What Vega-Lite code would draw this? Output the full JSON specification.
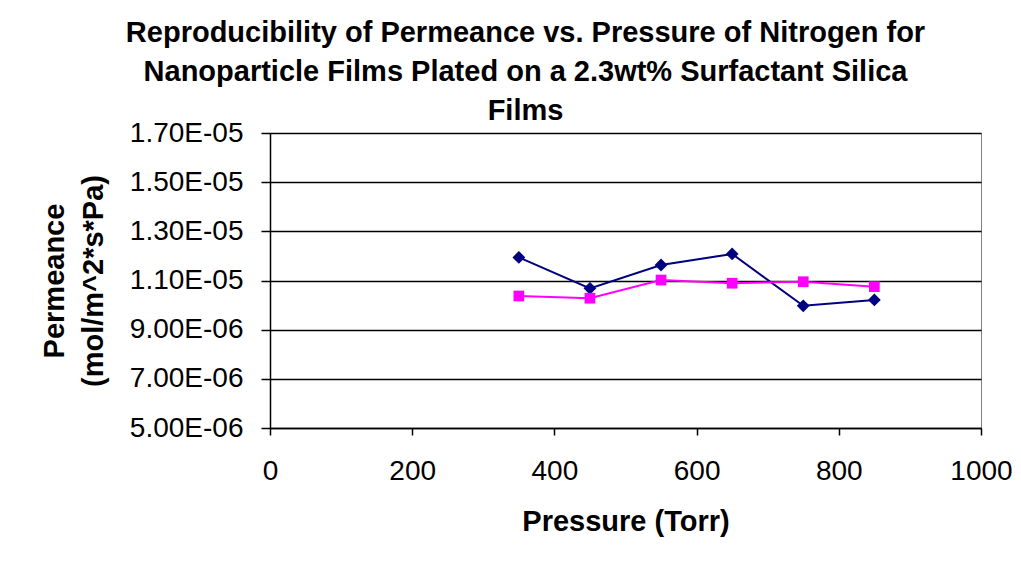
{
  "$schema": "https://vega.github.io/schema/vega-lite/v6.json",
  "width": 711,
  "height": 295,
  "autosize": {"type": "none"},
  "padding": {"left": 270, "top": 133, "right": 40, "bottom": 134},
  "background": "white",
  "title": {
    "text": ["Reproducibility of Permeance vs. Pressure of Nitrogen for", "Nanoparticle Films Plated on a 2.3wt% Surfactant Silica", "Films"],
    "font": "Liberation Sans",
    "fontSize": 29,
    "fontWeight": "bold",
    "color": "black",
    "anchor": "middle",
    "lineHeight": 39,
    "dx": -100,
    "offset": -7
  },
  "config": {
    "view": {"stroke": "#808080", "strokeWidth": 1},
    "axis": {
      "labelFont": "Liberation Sans",
      "labelFontSize": 28,
      "labelColor": "black",
      "titleFont": "Liberation Sans",
      "titleFontSize": 29,
      "titleFontWeight": "bold",
      "titleColor": "black",
      "domainColor": "black",
      "tickColor": "black",
      "gridColor": "black",
      "domainWidth": 1.5,
      "tickWidth": 1.5,
      "gridWidth": 1.5
    }
  },
  "data": {
    "values": [
      {"pressure": 350, "permeance": 1.194e-5, "run": "Run 1"},
      {"pressure": 450, "permeance": 1.068e-5, "run": "Run 1"},
      {"pressure": 550, "permeance": 1.163e-5, "run": "Run 1"},
      {"pressure": 650, "permeance": 1.208e-5, "run": "Run 1"},
      {"pressure": 750, "permeance": 9.97e-6, "run": "Run 1"},
      {"pressure": 850, "permeance": 1.021e-5, "run": "Run 1"},
      {"pressure": 350, "permeance": 1.037e-5, "run": "Run 2"},
      {"pressure": 450, "permeance": 1.028e-5, "run": "Run 2"},
      {"pressure": 550, "permeance": 1.102e-5, "run": "Run 2"},
      {"pressure": 650, "permeance": 1.089e-5, "run": "Run 2"},
      {"pressure": 750, "permeance": 1.095e-5, "run": "Run 2"},
      {"pressure": 850, "permeance": 1.075e-5, "run": "Run 2"}
    ]
  },
  "encoding": {
    "x": {
      "field": "pressure",
      "type": "quantitative",
      "scale": {"domain": [0, 1000], "nice": false},
      "axis": {
        "title": "Pressure (Torr)",
        "values": [0, 200, 400, 600, 800, 1000],
        "format": "d",
        "grid": false,
        "tickSize": 7,
        "labelPadding": 22,
        "titlePadding": 22,
        "labelFlush": false
      }
    },
    "y": {
      "field": "permeance",
      "type": "quantitative",
      "scale": {"domain": [5e-6, 1.7e-5], "nice": false, "zero": false},
      "axis": {
        "title": ["Permeance", "(mol/m^2*s*Pa)"],
        "titleLineHeight": 39,
        "values": [5e-6, 7e-6, 9e-6, 1.1e-5, 1.3e-5, 1.5e-5, 1.7e-5],
        "labelExpr": "datum.value >= 1e-5 ? format(datum.value * 1e5, '.2f') + 'E-05' : format(datum.value * 1e6, '.2f') + 'E-06'",
        "grid": true,
        "tickSize": 9,
        "labelPadding": 18,
        "titlePadding": 21,
        "labelFlush": false
      }
    },
    "color": {
      "field": "run",
      "type": "nominal",
      "scale": {"domain": ["Run 1", "Run 2"], "range": ["#000080", "#FF00FF"]},
      "legend": null
    }
  },
  "layer": [
    {"mark": {"type": "line", "strokeWidth": 2}},
    {
      "mark": {"type": "point", "filled": true, "opacity": 1},
      "encoding": {
        "shape": {
          "field": "run",
          "type": "nominal",
          "scale": {"domain": ["Run 1", "Run 2"], "range": ["diamond", "square"]},
          "legend": null
        },
        "size": {
          "field": "run",
          "type": "nominal",
          "scale": {"domain": ["Run 1", "Run 2"], "range": [165, 115]},
          "legend": null
        }
      }
    }
  ]
}
